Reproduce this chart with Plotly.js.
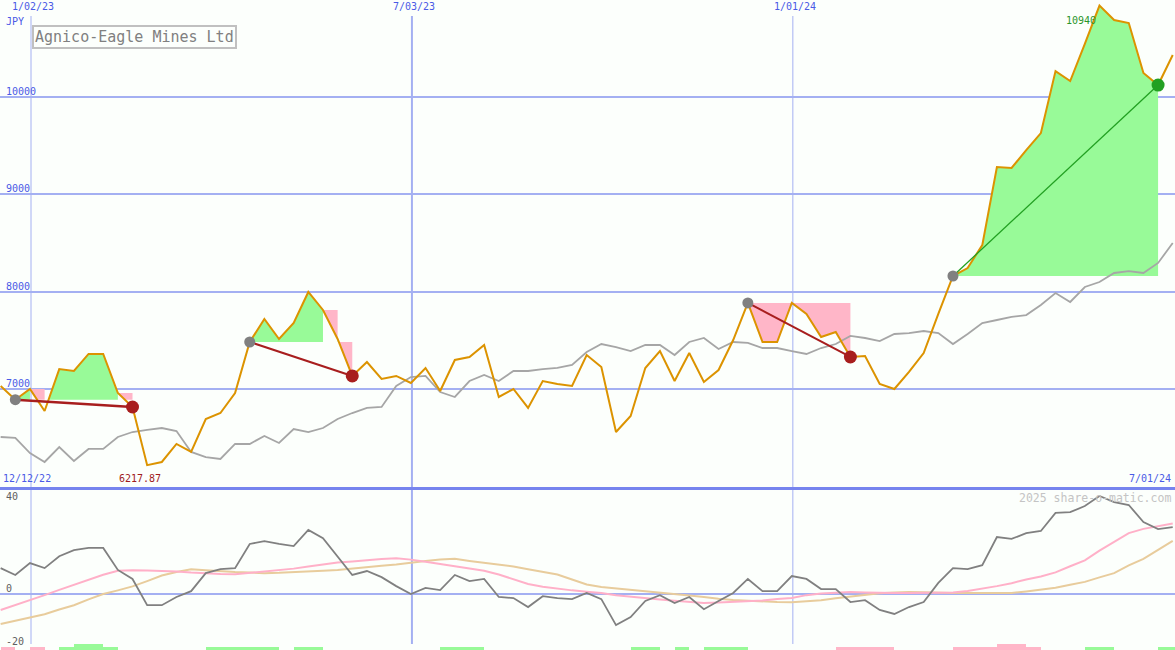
<!DOCTYPE html>
<html><head><meta charset="utf-8">
<script src="https://cdn.plot.ly/plotly-3.0.1.min.js"></script>
<style>html,body{margin:0;padding:0;background:#fcfffc}#chart{width:1175px;height:650px}</style>
</head><body><div id="chart"></div>
<script>
// ---------- data ----------
const firstWeek = '2022-12-18';
const price = [7031,6890,7000,6774,7205,7185,7360,7360,6959,6815,
 6217.87,6250,6435,6353,6692,6753,6959,7483,7719,7514,
 7678,7997,7812,7514,7134,7277,7103,7134,7062,7216,
 6979,7298,7329,7452,6918,7000,6805,7082,7051,7031,
 7349,7226,6558,6723,7216,7390,7082,7370,7072,7195,
 7503,7884,7483,7483,7884,7771,7534,7586,7329,7339,
 7051,7000,7175,7370,7771,8161,8243,8479,9281,9271,
 9455,9630,10267,10164,10545,10940,10791,10760,10247,10123,
 10432];
const benchmark = [6507,6497,6342,6250,6404,6260,6384,6384,6507,6558,
 6579,6599,6568,6353,6301,6281,6435,6435,6517,6445,
 6589,6558,6599,6692,6753,6805,6815,7031,7123,7134,
 6969,6918,7082,7144,7082,7185,7185,7205,7216,7247,
 7380,7462,7431,7390,7452,7452,7349,7483,7524,7411,
 7483,7473,7421,7421,7390,7360,7421,7462,7545,7524,
 7493,7565,7575,7596,7575,7462,7565,7678,7709,7740,
 7760,7863,7986,7894,8048,8099,8192,8212,8192,8295,
 8500];
const momentum = [9.8,7.2,11.7,9.8,14.3,16.6,17.4,17.4,9.1,5.7,
 -4.2,-4.2,-1.1,1.1,7.9,9.4,9.8,18.9,20,18.9,
 18.1,24.2,21.1,14,7.2,8.7,6.4,3,0,2.3,
 1.5,7.2,4.9,5.7,-1.1,-1.5,-4.9,-0.8,-1.5,-1.9,
 0.4,-1.9,-11.7,-8.7,-2.6,-0.4,-3.4,-1.1,-5.7,-2.6,
 0.4,5.7,1.1,1.1,6.8,5.7,1.9,1.9,-3,-2.3,
 -6,-7.5,-4.9,-3,4.2,9.8,9.4,10.9,21.5,20.8,
 23,23.8,30.6,30.9,33.2,37,34.7,33.6,27.2,24.5,
 25.3];
const momentumFast = [-6,-4.2,-2.4,-0.4,1.6,3.5,5.5,7.3,8.8,9,
 8.9,8.8,8.5,8.1,7.8,7.6,7.5,8,8.6,9.1,
 9.6,10.4,11.1,11.9,12.3,12.8,13.2,13.5,13,12.2,
 11.3,10.5,9.7,8.8,7.4,5.6,3.8,2.8,2,1.4,
 0.9,0.4,-0.4,-1,-1.5,-2,-2.5,-3,-3.4,-3.2,
 -3,-2.7,-2.4,-1.9,-1.5,-0.4,0.2,0.5,0.8,0.6,
 0.4,0.4,0.4,0.4,0.4,0.6,1.2,2,3,4.1,
 5.5,6.6,8.2,10.5,12.7,16.4,19.6,23,24.6,25.6,
 26.6];
const momentumSlow = [-11.3,-10.1,-9,-7.6,-5.8,-4.2,-2,0,1.4,2.9,
 4.9,7,8.3,9.4,9,8.6,8.3,8.1,7.9,8,
 8.2,8.5,8.8,9.1,9.7,10.2,10.7,11.2,11.9,12.5,
 13,13.3,12.5,11.8,11.1,10.4,9.4,8.4,7.4,5.5,
 3.6,2.7,2.2,1.6,1.1,0.6,0.1,-0.5,-1.1,-1.8,
 -2.2,-2.5,-2.7,-3,-3.1,-2.8,-2.3,-1.6,-1,-0.4,
 0.3,0.6,0.8,0.7,0.5,0.4,0.4,0.4,0.4,0.4,
 1,1.6,2.4,3.5,4.6,6.3,7.9,10.8,13.3,16.7,
 20.1];
const signalBars = [-1,0,-1,0,1,2,2,1,0,0,
 0,0,0,0,1,1,1,1,1,0,
 1,1,0,0,0,0,0,0,0,0,
 1,1,1,0,0,0,0,0,0,0,
 0,0,0,1,1,0,1,0,1,1,
 1,0,0,0,0,0,0,-1,-1,-1,
 -1,0,0,0,0,-1,-1,-1,-2,-2,
 -1,0,0,0,1,1,0,0,0,1,
 1];
const tradeEntry = [1, 17, 51, 65];
const tradeExit = [9, 24, 58, 79];
// segment fill modes per trade: g = green above entry, a = green above / pink below, b = pink give-back step
const tradeSegments = [
  [[1,2,'g'],[2,3,'b'],[3,8,'g'],[8,9,'b']],
  [[17,22,'g'],[22,23,'b'],[23,24,'a']],
  [[51,58,'a']],
  [[65,79,'g']]
];
const priceTicks = [7000, 8000, 9000, 10000];
const oscTicks = [40, 0, -20];
const dateTicks = ['2023-01-02', '2023-07-03', '2024-01-01'];
const dateTickLabels = ['1/02/23', '7/03/23', '1/01/24'];
const startLabel = '12/12/22';
const endLabel = '7/01/24';
const currency = 'JPY';
const titleText = 'Agnico-Eagle Mines Ltd';
const watermark = '2025 share-o-matic.com';

// ---------- styles ----------
const xRange = ['2022-12-18 04:30', '2024-07-01 14:00'];
const priceRange = [5993, 10997];
const oscRange = [-21.1, 40.4];
const split = 1 - 487/650;
const dateGridWidths = [1, 2, 1];
const BLUE = '#4a5ae6', GRID = '#a4b0f2', SEP = '#7684ee';
const GREEN_FILL = '#98fa98', PINK_FILL = '#ffb6c8';
const FONT = 'DejaVu Sans Mono';

// ---------- build ----------
const DAY = 864e5;
const t0 = Date.parse(firstWeek + 'T12:00:00Z');
const tms = price.map((_, k) => t0 + 7 * DAY * k);
const iso = ms => new Date(ms).toISOString().slice(0, 19).replace('T', ' ');
const dates = tms.map(iso);

function runPolygon(a, b, L, side) {
  const xs = [], ys = [];
  for (let k = a; k <= b; k++) {
    if (k > a) {
      const p0 = price[k-1], p1 = price[k];
      if ((p0 - L) * (p1 - L) < 0) {
        const f = (L - p0) / (p1 - p0);
        xs.push(tms[k-1] + f * (tms[k] - tms[k-1])); ys.push(L);
      }
    }
    xs.push(tms[k]); ys.push(side > 0 ? Math.max(price[k], L) : Math.min(price[k], L));
  }
  xs.push(tms[b]); ys.push(L); xs.push(tms[a]); ys.push(L);
  return {xs, ys};
}
function stepPolygon(k, L) {
  const p0 = price[k], p1 = price[k+1];
  const xs = [tms[k], tms[k+1]], ys = [p0, p0];
  if (p1 >= L) { xs.push(tms[k+1]); ys.push(p1); }
  else {
    const f = (p0 - L) / (p0 - p1);
    xs.push(tms[k+1], tms[k] + f * (tms[k+1] - tms[k])); ys.push(L, L);
  }
  return {xs, ys};
}
function polyTrace(poly, color) {
  return {x: poly.xs.map(iso), y: poly.ys, xaxis: 'x', yaxis: 'y', mode: 'lines',
    line: {width: 0, color: color}, fill: 'toself', fillcolor: color, hoverinfo: 'skip'};
}

const traces = [];
tradeEntry.forEach((i0, t) => {
  const L = price[i0];
  tradeSegments[t].forEach(([a, b, mode]) => {
    if (mode === 'b') traces.push(polyTrace(stepPolygon(a, L), PINK_FILL));
    else {
      traces.push(polyTrace(runPolygon(a, b, L, 1), GREEN_FILL));
      if (mode === 'a') traces.push(polyTrace(runPolygon(a, b, L, -1), PINK_FILL));
    }
  });
});

traces.push({x: dates, y: benchmark, xaxis: 'x', yaxis: 'y', mode: 'lines',
  line: {color: '#a6a6a6', width: 1.8}, hoverinfo: 'skip'});
traces.push({x: dates, y: price, xaxis: 'x', yaxis: 'y', mode: 'lines',
  line: {color: '#dc9300', width: 2}, hoverinfo: 'skip'});

tradeEntry.forEach((i0, t) => {
  const i1 = tradeExit[t];
  const L = price[i0];
  const win = price[i1] > L;
  const col = win ? '#22a022' : '#a81e1e';
  traces.push({x: [dates[i0], dates[i1]], y: [L, price[i1]], xaxis: 'x', yaxis: 'y', mode: 'lines',
    line: {color: col, width: win ? 1.3 : (t === 0 ? 2.5 : 2)}, hoverinfo: 'skip'});
  traces.push({x: [dates[i0]], y: [L], xaxis: 'x', yaxis: 'y', mode: 'markers',
    marker: {color: '#808080', size: 11}, hoverinfo: 'skip', cliponaxis: false});
  traces.push({x: [dates[i1]], y: [price[i1]], xaxis: 'x', yaxis: 'y', mode: 'markers',
    marker: {color: col, size: 13}, hoverinfo: 'skip', cliponaxis: false});
});

traces.push({x: dates, y: momentumSlow, xaxis: 'x2', yaxis: 'y2', mode: 'lines',
  line: {color: '#e8cc9c', width: 2}, hoverinfo: 'skip'});
traces.push({x: dates, y: momentumFast, xaxis: 'x2', yaxis: 'y2', mode: 'lines',
  line: {color: '#ffb0c8', width: 2}, hoverinfo: 'skip'});
traces.push({x: dates, y: momentum, xaxis: 'x2', yaxis: 'y2', mode: 'lines',
  line: {color: '#808080', width: 1.8}, hoverinfo: 'skip'});
traces.push({type: 'bar', x: dates, y: signalBars.map(Math.abs), xaxis: 'x2', yaxis: 'y3',
  marker: {color: signalBars.map(v => v > 0 ? '#98fa98' : '#ffb6c8'), line: {width: 0}},
  offset: 0, width: 7 * DAY, hoverinfo: 'skip'});

// ---------- annotations ----------
const ann = [];
const txt = (o) => Object.assign({showarrow: false, font: {family: FONT, size: 10, color: BLUE}}, o);
ann.push(txt({text: titleText, xref: 'paper', yref: 'paper', x: 32/1175, y: 1 - 25/650,
  xanchor: 'left', yanchor: 'top', bordercolor: '#c0c0c0', borderwidth: 2, borderpad: 1,
  bgcolor: '#fcfffc', font: {family: FONT, size: 15, color: '#808080'}}));
ann.push(txt({text: currency, xref: 'paper', yref: 'paper', x: 0, y: 1, xshift: 4, yshift: -14,
  xanchor: 'left', yanchor: 'top'}));
priceTicks.forEach(v => ann.push(txt({text: String(v), xref: 'paper', yref: 'y', x: 0, y: v,
  xanchor: 'left', yanchor: 'bottom', xshift: 4, yshift: -2})));
oscTicks.forEach(v => {
  const top = v >= oscRange[1] - 1;
  ann.push(txt({text: String(v), xref: 'paper', yref: 'y2', x: 0, y: v, xanchor: 'left',
    yanchor: top ? 'top' : 'bottom', xshift: 4, yshift: top ? -1 : -2,
    font: {family: FONT, size: 10, color: '#606060'}}));
});
dateTicks.forEach((d, i) => ann.push(txt({text: dateTickLabels[i], xref: 'x', yref: 'paper',
  x: d, y: 1, xanchor: 'center', yanchor: 'top', yshift: 1, xshift: 2})));
ann.push(txt({text: startLabel, xref: 'paper', yref: 'paper', x: 0, y: split, xanchor: 'left',
  yanchor: 'bottom', xshift: 1, yshift: 1}));
ann.push(txt({text: endLabel, xref: 'paper', yref: 'paper', x: 1, y: split, xanchor: 'right',
  yanchor: 'bottom', xshift: -2, yshift: 1}));
const minV = Math.min(...price), maxV = Math.max(...price);
const minI = price.indexOf(minV), maxI = price.indexOf(maxV);
ann.push(txt({text: minV.toFixed(2), xref: 'x', yref: 'paper', x: dates[minI], y: split,
  xanchor: 'center', yanchor: 'bottom', xshift: -7, yshift: 1,
  font: {family: FONT, size: 10, color: '#a01c1c'}}));
ann.push(txt({text: String(Math.round(maxV)), xref: 'x', yref: 'y', x: dates[maxI], y: maxV,
  xanchor: 'right', yanchor: 'top', xshift: -1, yshift: -7,
  font: {family: FONT, size: 10, color: '#2a962a'}}));
ann.push(txt({text: watermark, xref: 'paper', yref: 'paper', x: 1, y: split, xanchor: 'right',
  yanchor: 'top', xshift: -2, yshift: -2, font: {family: FONT, size: 11.5, color: '#c4c4c4'}}));

const shapes = dateTicks.map((d, i) => ({type: 'line', xref: 'x', yref: 'paper', x0: d, x1: d,
  y0: 0, y1: 1 - 16/650, line: {color: GRID, width: dateGridWidths[i]}, layer: 'below'}));

const layout = {
  width: 1175, height: 650, margin: {l: 0, r: 0, t: 0, b: 0},
  paper_bgcolor: '#fcfffc', plot_bgcolor: '#fcfffc', showlegend: false,
  font: {family: FONT},
  bargap: 0,
  xaxis: {type: 'date', range: xRange, domain: [0, 1], anchor: 'y', showgrid: false,
    showticklabels: false, ticks: '', showline: true, linecolor: SEP, linewidth: 3, zeroline: false},
  xaxis2: {type: 'date', range: xRange, domain: [0, 1], anchor: 'y2', matches: 'x', showgrid: false,
    showticklabels: false, ticks: '', showline: false, zeroline: false},
  yaxis: {domain: [split, 1], range: priceRange, tickmode: 'array', tickvals: priceTicks,
    showgrid: true, gridcolor: GRID, gridwidth: 2, showticklabels: false, ticks: '', zeroline: false},
  yaxis2: {domain: [0, split], range: oscRange, tickmode: 'array', tickvals: [0],
    showgrid: true, gridcolor: GRID, gridwidth: 2, showticklabels: false, ticks: '', zeroline: false},
  yaxis3: {domain: [0, 6/650], range: [0, 2], visible: false, anchor: 'x2'},
  annotations: ann,
  shapes: shapes
};
Plotly.newPlot('chart', traces, layout, {staticPlot: true, displayModeBar: false});
</script>
</body></html>
